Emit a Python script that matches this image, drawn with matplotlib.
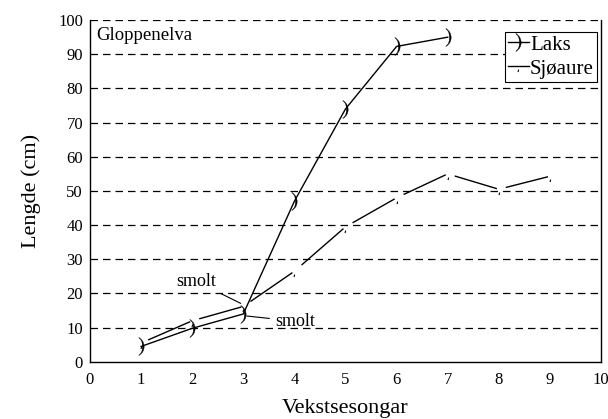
import matplotlib
matplotlib.use("Agg")
import matplotlib.pyplot as plt
import numpy as np
from matplotlib.lines import Line2D
from matplotlib.path import Path

plt.rcParams['font.family'] = ['Liberation Serif', 'DejaVu Serif']
plt.rcParams['mathtext.fontset'] = 'stix'

seasons_laks = [1, 2, 3, 4, 5, 6, 7]
laks = [4.5, 9.8, 14.0, 47.0, 74.0, 92.3, 95.0]
seasons_sjo = [1, 2, 3, 4, 5, 6, 7, 8, 9]
sjoaure = [5.5, 12.0, 16.2, 26.5, 39.5, 48.0, 55.0, 50.5, 54.3]
xticks = list(range(0, 11))
yticks = list(range(0, 101, 10))

fig = plt.figure(figsize=(6.08, 4.19), dpi=100)
ax = fig.add_axes([0.148, 0.1365, 0.8405, 0.8155])
ax.set_xlim(0, 10)
ax.set_ylim(0, 100)
ax.set_xticks(xticks)
ax.set_yticks(yticks)
ax.tick_params(axis='both', length=0, labelsize=12)
ax.tick_params(axis='y', pad=5)
ax.tick_params(axis='x', pad=7)
for yv in yticks[1:]:
    ax.axhline(yv, color='black', lw=0.9, dashes=(6, 4), zorder=1)
ax.spines['top'].set_visible(False)
for s in ['left', 'right', 'bottom']:
    ax.spines[s].set_linewidth(1.0)

laks_marker = '$)$'
sjo_marker = Path([(-0.08, -1.0), (0.03, -0.55)])

# Laks: continuous line with ")" markers
ax.plot(seasons_laks, laks, color='black', lw=1.0, marker=laks_marker,
        markersize=13, markeredgewidth=0.2, zorder=3)

# Sjøaure: broken segments, small tick markers
xs = np.array(seasons_sjo, dtype=float)
ys = np.array(sjoaure, dtype=float)
for i in range(len(xs) - 1):
    t0, t1 = 0.15, 0.95
    ax.plot([xs[i] + t0 * (xs[i+1] - xs[i]), xs[i] + t1 * (xs[i+1] - xs[i])],
            [ys[i] + t0 * (ys[i+1] - ys[i]), ys[i] + t1 * (ys[i+1] - ys[i])],
            color='black', lw=1.0, zorder=3)
ax.plot(xs, ys, linestyle='none', marker=sjo_marker, markersize=8,
        color='black', markeredgewidth=0.8, fillstyle='none', zorder=3)

ax.text(0.12, 95.5, 'Gloppenelva', fontsize=13.5, va='center', ha='left')

ax.annotate('smolt', xy=(2.95, 17.1), xytext=(2.07, 23.6), fontsize=13,
            ha='center', va='center',
            arrowprops=dict(arrowstyle='-', color='black', lw=0.8,
                            shrinkA=2, shrinkB=0))
ax.annotate('smolt', xy=(3.07, 13.4), xytext=(4.01, 11.9), fontsize=13,
            ha='center', va='center',
            arrowprops=dict(arrowstyle='-', color='black', lw=0.8,
                            shrinkA=2, shrinkB=0))

ax.set_xlabel('Vekstsesongar', fontsize=16, labelpad=8)
ax.set_ylabel('Lengde (cm)', fontsize=16, labelpad=12)

handles = [Line2D([], [], color='black', lw=1.0, marker=laks_marker,
                  markersize=13, markeredgewidth=0.2),
           Line2D([], [], color='black', lw=1.0, marker=sjo_marker,
                  markersize=8, markeredgewidth=0.8, fillstyle='none')]
leg = ax.legend(handles, ['Laks', 'Sjøaure'], loc='upper right',
                bbox_to_anchor=(0.992, 0.965), fontsize=15, frameon=True,
                fancybox=False, edgecolor='black', handlelength=1.0,
                handletextpad=0.05, borderpad=0.15, labelspacing=0.2,
                borderaxespad=0.0)
leg.get_frame().set_linewidth(0.8)
leg.get_frame().set_alpha(1)

fig.savefig('out.png', dpi=100)
